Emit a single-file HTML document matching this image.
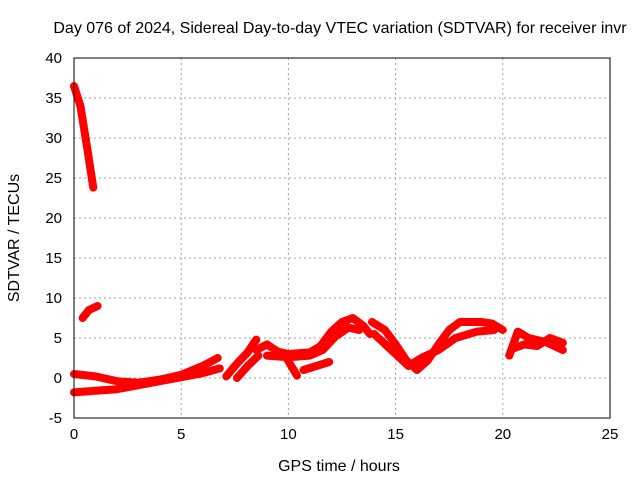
<!DOCTYPE html>
<html><head><meta charset="utf-8"><style>
body{margin:0;background:#fff}
svg{display:block;font-family:"Liberation Sans",sans-serif}
</style></head><body>
<svg id="chart" width="640" height="480">
<text x="340" y="33" text-anchor="middle" font-size="16">Day 076 of 2024, Sidereal Day-to-day VTEC variation (SDTVAR) for receiver invr</text>
<text x="339" y="471" text-anchor="middle" font-size="16">GPS time / hours</text>
<text transform="translate(19,238) rotate(-90)" text-anchor="middle" font-size="16">SDTVAR / TECUs</text>
<g id="grid"></g><g id="ticks"></g><g id="series"></g>
<rect x="74" y="58" width="536" height="360" fill="none" stroke="#000"/>
</svg>
<script>
const xTicks=[0,5,10,15,20,25];
const yTicks=[-5,0,5,10,15,20,25,30,35,40];
const trackA=[[0,36.5],[0.3,34],[0.6,29],[0.9,23.8]];
const trackB=[[0.4,7.5],[0.7,8.5],[1.1,9]];
const trackC=[[0,-1.8],[1,-1.6],[2,-1.4],[3,-0.9],[4,-0.4],[5,0.1],[6,0.6],[6.8,1.2]];
const trackC2=[[0,0.5],[1,0.2],[2,-0.4],[3,-0.6],[4,-0.2],[5,0.4],[6,1.5],[6.7,2.5]];
const trackD1=[[7.1,0.2],[7.6,1.8],[8.1,3.2],[8.5,4.8]];
const trackD2=[[7.6,0],[8.1,1.5],[8.6,2.8]];
const trackE=[[8.5,3.5],[9,4.2],[9.5,3.3],[10,3],[11,3.2],[11.5,4],[12,5.8],[12.5,7],[13,7.5],[13.5,6.5],[13.8,5.5]];
const trackE2=[[9,2.8],[10,2.6],[11,2.8],[11.6,3.5],[12.2,5.2],[12.8,6.3],[13.3,6]];
const trackF1=[[9.8,3],[10.4,0.3]];
const trackF2=[[10.7,1],[11.3,1.5],[11.9,2]];
const trackG=[[13.9,7],[14.5,6],[15,4.2],[15.5,2.2],[16,1],[16.5,2.2],[17,4.2],[17.5,6],[18,7],[19,7],[19.5,6.8],[20,6]];
const trackG2=[[14,5.5],[15,3],[15.6,1.5],[16.2,2.5],[17,3.5],[17.8,5],[18.8,5.8],[19.6,6]];
const trackH1=[[20.3,2.8],[20.7,5.8],[21.2,5],[22,4.5],[22.8,3.5]];
const trackH2=[[20.4,3.6],[21,4.2],[21.6,4],[22.2,5],[22.8,4.4]];
const tracks=[trackA,trackB,trackC,trackC2,trackD1,trackD2,trackE,trackE2,trackF1,trackF2,trackG,trackG2,trackH1,trackH2];
const NS='http://www.w3.org/2000/svg';
const X=v=>74+v*536/25, Y=v=>418-(v+5)*8;
const grid=document.getElementById('grid'),ticks=document.getElementById('ticks'),ser=document.getElementById('series');
function mk(t,a,p){const e=document.createElementNS(NS,t);for(const k in a)e.setAttribute(k,a[k]);p.appendChild(e);return e;}
xTicks.forEach(v=>{
 if(v>0&&v<25){const g=mk('line',{x1:X(v),x2:X(v),y1:58,y2:418,stroke:'#a0a0a0','stroke-dasharray':'2,3'},grid);
 
 }
 const t=mk('text',{x:X(v),y:439,'text-anchor':'middle','font-size':15},ticks);t.textContent=v;
 
 
});
yTicks.forEach(v=>{
 if(v>-5&&v<40){const g=mk('line',{x1:74,x2:610,y1:Y(v),y2:Y(v),stroke:'#a0a0a0','stroke-dasharray':'2,3'},grid);
 
 }
 const t=mk('text',{x:62,y:Y(v)+5,'text-anchor':'end','font-size':15},ticks);t.textContent=v;
 
 
});
tracks.forEach(tr=>{
 const p=mk('polyline',{points:tr.map(d=>X(d[0])+','+Y(d[1])).join(' '),fill:'none',stroke:'#ff0000','stroke-width':8,'stroke-linejoin':'round','stroke-linecap':'round'},ser);
 
 
});
</script>
</body></html>
